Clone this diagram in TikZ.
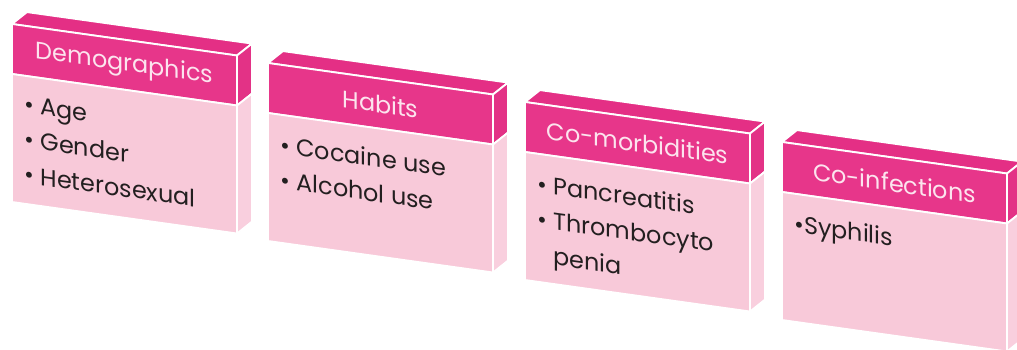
\documentclass[tikz,border=0pt]{standalone}
\usepackage{fontspec}
\setmainfont{Poppins}
\usetikzlibrary{positioning}
\definecolor{BoxMagenta}{HTML}{E7368A}
\definecolor{BoxTop}{HTML}{E42F85}
\definecolor{BoxSide}{HTML}{E33286}
\definecolor{BoxPink}{HTML}{F8C9D9}
\definecolor{BoxSidePink}{HTML}{F9CFDE}
\definecolor{BoxTitle}{HTML}{FCE4EE}
\definecolor{BoxInk}{HTML}{231F20}
% #1 name, #2 front top-left corner, #3 title, #4 items
\newcommand{\FactorBox}[4]{%
  \begin{scope}[shift={#2},yslant=-0.14]
    \filldraw[face,fill=BoxTop] (0,0) -- (15,14) -- (240,14) -- (225,0) -- cycle;
    \filldraw[face,fill=BoxSide] (225,0) -- (240,14) -- (240,-36) -- (225,-50) -- cycle;
    \filldraw[face,fill=BoxSidePink] (225,-50) -- (240,-36) -- (240,-164) -- (225,-178) -- cycle;
    \filldraw[face,fill=BoxMagenta] (0,0) rectangle (225,-50);
    \filldraw[face,fill=BoxPink] (0,-50) rectangle (225,-178);
    \node[boxtitle,transform shape] (#1-title) at (112.5,-25) {#3};
    \node[boxitems,transform shape] (#1-items) at (12,-70) {#4};
  \end{scope}}

\begin{document}
\begin{tikzpicture}[x=0.025cm,y=0.025cm,
    face/.style={draw=white,line width=1.3pt,line join=round},
    boxtitle/.style={text=BoxTitle,font=\fontsize{17}{20}\selectfont,inner sep=0pt},
    boxitems/.style={text=BoxInk,font=\fontsize{17}{25}\selectfont,align=left,anchor=north west,inner sep=0pt}
  ]
    \clip (0,0) rectangle (1017,349);
    \fill[white] (0,0) rectangle (1017,349);
    \FactorBox{dem}{(12,325)}{Demographics}{• Age\\• Gender\\• Heterosexual}
    \FactorBox{hab}{(268,286)}{Habits}{• Cocaine use\\• Alcohol use}
    \FactorBox{com}{(525,247)}{Co-morbidities}{• Pancreatitis\\• Thrombocyto\\\hphantom{• }penia}
    \FactorBox{coi}{(782,207)}{Co-infections}{•Syphilis}
  \end{tikzpicture}
\end{document}
